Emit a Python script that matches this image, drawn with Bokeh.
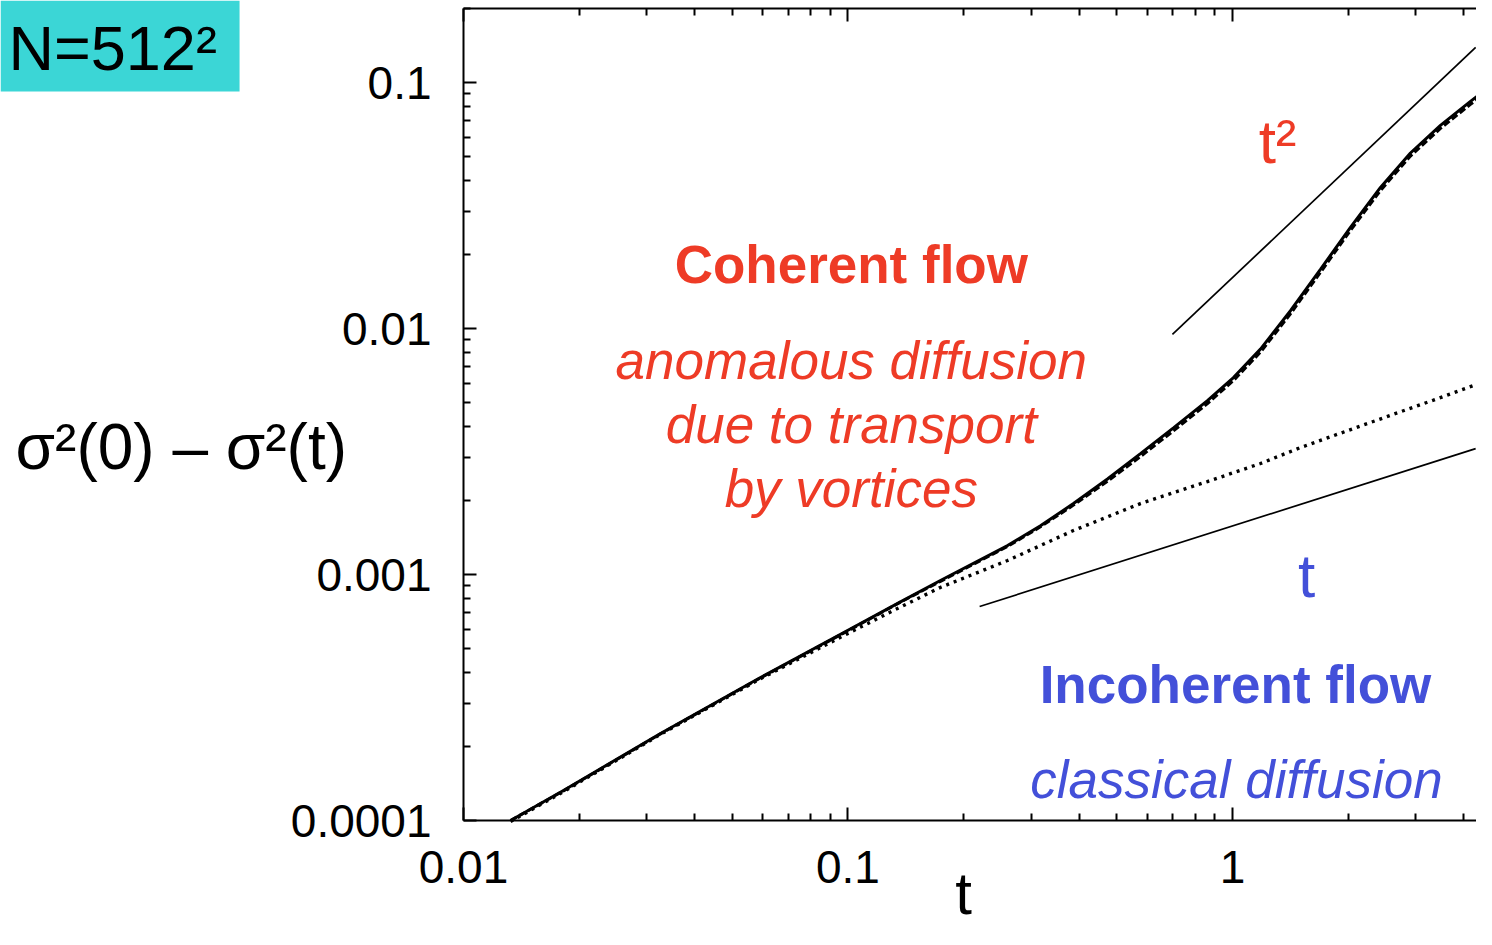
from bokeh.plotting import figure
from bokeh.models import Label, BoxAnnotation, LogAxis, FixedTicker, CustomJSTickFormatter, Range1d
from bokeh.embed import file_html
from bokeh.resources import INLINE

# ---------------- data ----------------
t_solid = [0.013255, 0.018197, 0.032537, 0.059212, 0.09970, 0.13695, 0.17395, 0.26003, 0.31672, 0.38589,
           0.47304, 0.57637, 0.70226, 0.86090, 1.0060, 1.1825, 1.4155, 1.6937, 2.0272, 2.4265,
           2.9036, 3.4752, 4.1590, 4.7450]
y_solid = [1.000e-4, 1.3243e-4, 2.2574e-4, 3.8137e-4, 5.9207e-4, 7.74e-4, 9.453e-4, 1.3116e-3, 1.5790e-3, 1.9430e-3,
           2.4443e-3, 3.1029e-3, 3.9476e-3, 5.0966e-3, 6.3215e-3, 8.2476e-3, 1.1817e-2, 1.7402e-2, 2.5784e-2, 3.7470e-2,
           5.1720e-2, 6.6988e-2, 8.3873e-2, 9.80e-2]

t_dashed = [0.013255, 0.018197, 0.032537, 0.059212, 0.09970, 0.13695, 0.17395, 0.26003, 0.31672, 0.38589,
            0.47304, 0.57637, 0.70226, 0.86090, 1.0060, 1.1825, 1.4155, 1.6937, 2.0272, 2.4265,
            2.9036, 3.4752, 4.1590, 4.7450]
y_dashed = [1.0e-4, 1.32e-4, 2.25e-4, 3.80e-4, 5.89e-4, 7.72e-4, 9.38e-4, 1.300e-3, 1.563e-3, 1.915e-3,
            2.395e-3, 3.016e-3, 3.837e-3, 4.954e-3, 6.144e-3, 8.017e-3, 1.1486e-2, 1.6915e-2, 2.5062e-2, 3.6421e-2,
            5.0272e-2, 6.5112e-2, 8.1525e-2, 9.526e-2]

t_dotted = [0.013255, 0.018197, 0.032537, 0.059212, 0.0997, 0.1313, 0.1738, 0.260, 0.3859, 0.5764,
            0.8609, 1.183, 1.503, 2.244, 3.333, 4.75]
y_dotted = [0.99e-4, 1.31e-4, 2.24e-4, 3.77e-4, 5.75e-4, 7.14e-4, 8.86e-4, 1.140e-3, 1.510e-3, 1.943e-3,
            2.388e-3, 2.827e-3, 3.283e-3, 4.110e-3, 5.12e-3, 6.26e-3]

t_sq_line = [0.698, 4.29]
y_sq_line = [9.46e-3, 0.139]

t_lin_line = [0.220, 4.29]
y_lin_line = [7.41e-4, 3.25e-3]

x_ticks = [0.01, 0.1, 1]
x_tick_labels = ["0.01", "0.1", "1"]
y_ticks = [0.0001, 0.001, 0.01, 0.1]
y_tick_labels = ["0.0001", "0.001", "0.01", "0.1"]

x_axis_span = (0.01, 4.312)     # extent of the drawn x axes
y_axis_span = (1e-4, 0.2)       # extent of the drawn y axis

red_texts = ["anomalous diffusion", "due to transport", "by vortices"]
red_text_t = [0.102, 0.102, 0.102]
red_text_y = [0.00741, 0.00407, 0.00224]

RED = "#EE3B26"
BLUE = "#4350D9"
CYAN = "#3BD6D6"
FONT = "Liberation Sans"

W, H = 1476, 929

# ---------------- figure ----------------
# The frame fills the canvas; the axes are pinned at fixed data locations so that
# the titles and the corner box (outside the axes) are drawn inside the frame.
p = figure(width=W, height=H, x_axis_type="log", y_axis_type="log",
           x_range=Range1d(6.249e-4, 4.312), y_range=Range1d(3.605e-5, 0.2156),
           output_backend="svg", toolbar_location=None,
           min_border_left=0, min_border_top=0, min_border_right=0, min_border_bottom=0)
p.grid.visible = False
p.outline_line_color = None
p.background_fill_color = "white"
p.border_fill_color = "white"


def minors(ticks):
    out = []
    for d in ticks:
        for m in range(2, 10):
            out.append(d * m)
    return out


def fmt(vals, labs):
    return CustomJSTickFormatter(args=dict(vals=vals, labs=labs), code="""
        for (let i = 0; i < vals.length; i++) {
            if (Math.abs(Math.log10(vals[i]) - Math.log10(tick)) < 1e-6) return labs[i];
        }
        return "";
    """)


x_ticker = FixedTicker(ticks=x_ticks, minor_ticks=minors(x_ticks))
y_ticker = FixedTicker(ticks=y_ticks, minor_ticks=minors(y_ticks))


def style_axis(ax):
    ax.axis_line_width = 2
    ax.axis_line_color = "black"
    ax.major_tick_line_width = 2
    ax.minor_tick_line_width = 2
    ax.major_tick_in = 13
    ax.major_tick_out = 0
    ax.minor_tick_in = 7
    ax.minor_tick_out = 0
    ax.major_label_text_font = FONT
    ax.major_label_text_font_size = "46px"
    ax.major_label_text_color = "black"


xa = p.xaxis[0]
xa.ticker = x_ticker
xa.formatter = fmt(x_ticks, x_tick_labels)
style_axis(xa)
xa.major_label_standoff = 30
xa.fixed_location = y_axis_span[0]
xa.bounds = x_axis_span

ya = p.yaxis[0]
ya.ticker = y_ticker
ya.formatter = fmt(y_ticks, y_tick_labels)
style_axis(ya)
ya.major_label_standoff = 32
ya.fixed_location = x_axis_span[0]
ya.bounds = y_axis_span

top = LogAxis(ticker=x_ticker, formatter=CustomJSTickFormatter(code="return '';"))
style_axis(top)
top.major_label_standoff = 0
top.major_label_text_font_size = "1px"
top.fixed_location = y_axis_span[1]
top.bounds = x_axis_span
p.add_layout(top, "above")

# ---------------- curves ----------------
p.line(t_dotted, y_dotted, line_color="black", line_width=3.4, line_dash="3 5")
p.line(t_dashed, y_dashed, line_color="black", line_width=3, line_dash="7 3")
p.line(t_solid, y_solid, line_color="black", line_width=3)
p.line(t_sq_line, y_sq_line, line_color="black", line_width=1.7)
p.line(t_lin_line, y_lin_line, line_color="black", line_width=1.7)

# ---------------- annotations ----------------
p.add_layout(Label(x=0.102, y=0.0182, text="Coherent flow", text_font=FONT, text_font_size="53px",
                   text_font_style="bold", text_color=RED, text_align="center", text_baseline="middle"))
for txt, tx, ty in zip(red_texts, red_text_t, red_text_y):
    p.add_layout(Label(x=tx, y=ty, text=txt, text_font=FONT, text_font_size="53px",
                       text_font_style="italic", text_color=RED, text_align="center", text_baseline="middle"))
p.add_layout(Label(x=1.31, y=0.0575, text="t²", text_font=FONT, text_font_size="62px",
                   text_color=RED, text_align="center", text_baseline="middle"))
p.add_layout(Label(x=1.56, y=9.9e-4, text="t", text_font=FONT, text_font_size="62px",
                   text_color=BLUE, text_align="center", text_baseline="middle"))
p.add_layout(Label(x=1.018, y=3.57e-4, text="Incoherent flow", text_font=FONT, text_font_size="53px",
                   text_font_style="bold", text_color=BLUE, text_align="center", text_baseline="middle"))
p.add_layout(Label(x=1.024, y=1.47e-4, text="classical diffusion", text_font=FONT, text_font_size="53px",
                   text_font_style="italic", text_color=BLUE, text_align="center", text_baseline="middle"))

# x-axis title
p.add_layout(Label(x=0.1998, y=5.05e-5, text="t", text_font=FONT, text_font_size="60px",
                   text_color="black", text_align="center", text_baseline="middle"))

# y-axis title (horizontal, left of the axis)
p.add_layout(Label(x=6.84e-4, y=3.3e-3, text="σ²(0) – σ²(t)", text_font=FONT, text_font_size="64px",
                   text_color="black", text_align="left", text_baseline="middle"))

# N = 512^2 box in the top-left corner
p.add_layout(BoxAnnotation(left=6.249e-4, right=2.6155e-3, top=0.2156, bottom=0.09192,
                           fill_color=CYAN, fill_alpha=1.0, line_color=None))
p.add_layout(Label(x=6.556e-4, y=0.1388, text="N=512²", text_font=FONT,
                   text_font_size="63px", text_color="black", text_align="left", text_baseline="middle"))

open("out.html", "w").write(file_html(p, INLINE))
